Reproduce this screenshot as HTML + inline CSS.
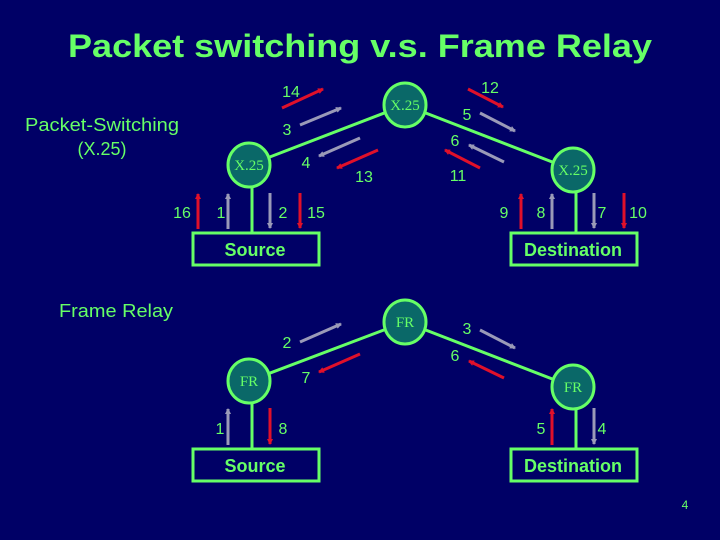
<!DOCTYPE html>
<html><head><meta charset="utf-8"><style>
html,body{margin:0;padding:0;background:#000066;}
svg{display:block}
text{font-family:"Liberation Sans",Arial,Helvetica,sans-serif;fill:#66ff66;}
.n{font-family:"Liberation Serif","Times New Roman",serif;font-size:15px;fill:#66ff66;}
</style></head><body>
<svg width="720" height="540" viewBox="0 0 720 540" xmlns="http://www.w3.org/2000/svg" font-family="Liberation Sans, Arial, sans-serif">
<defs>
<marker id="ar" markerWidth="6" markerHeight="6" refX="5" refY="3" orient="auto" markerUnits="userSpaceOnUse"><path d="M0,0 L6,3 L0,6 Z" fill="#e0102a"/></marker>
<marker id="ag" markerWidth="6" markerHeight="6" refX="5" refY="3" orient="auto" markerUnits="userSpaceOnUse"><path d="M0,0 L6,3 L0,6 Z" fill="#9a9ab8"/></marker>
</defs>
<rect width="720" height="540" fill="#000066"/>
<text x="360" y="57" font-family="Liberation Sans, sans-serif" font-size="32" font-weight="bold" text-anchor="middle" textLength="584" lengthAdjust="spacingAndGlyphs">Packet switching v.s. Frame Relay</text>
<text x="102" y="131" font-family="Liberation Sans, sans-serif" font-size="18" text-anchor="middle" textLength="154" lengthAdjust="spacingAndGlyphs">Packet-Switching</text>
<text x="102" y="155" font-family="Liberation Sans, sans-serif" font-size="18" text-anchor="middle">(X.25)</text>
<text x="116" y="317" font-family="Liberation Sans, sans-serif" font-size="18" text-anchor="middle" textLength="114" lengthAdjust="spacingAndGlyphs">Frame Relay</text>

<g stroke="#66ff66" stroke-width="3" fill="none">
<line x1="249" y1="165" x2="405" y2="105"/><line x1="405" y1="105" x2="573" y2="170"/>
<line x1="252" y1="180" x2="252" y2="234"/><line x1="576" y1="185" x2="576" y2="234"/>
<rect x="193" y="233" width="126" height="32"/><rect x="511" y="233" width="126" height="32"/>
<line x1="249" y1="381" x2="405" y2="322"/><line x1="405" y1="322" x2="573" y2="387"/>
<line x1="252" y1="395" x2="252" y2="450"/><line x1="576" y1="400" x2="576" y2="450"/>
<rect x="193" y="449" width="126" height="32"/><rect x="511" y="449" width="126" height="32"/>
</g>
<g fill="#0a6868" stroke="#66ff66" stroke-width="3">
<ellipse cx="249" cy="165" rx="21" ry="22"/><ellipse cx="405" cy="105" rx="21" ry="22"/><ellipse cx="573" cy="170" rx="21" ry="22"/>
<ellipse cx="249" cy="381" rx="21" ry="22"/><ellipse cx="405" cy="322" rx="21" ry="22"/><ellipse cx="573" cy="387" rx="21" ry="22"/>
</g>
<g font-family="Liberation Serif, serif">
<text class="n" x="249" y="170" text-anchor="middle">X.25</text>
<text class="n" x="405" y="110" text-anchor="middle">X.25</text>
<text class="n" x="573" y="175" text-anchor="middle">X.25</text>
<text class="n" x="249" y="386" text-anchor="middle">FR</text>
<text class="n" x="405" y="327" text-anchor="middle">FR</text>
<text class="n" x="573" y="392" text-anchor="middle">FR</text>
</g>

<g font-family="Liberation Sans, sans-serif" font-size="18" font-weight="bold" text-anchor="middle">
<text x="255" y="256">Source</text><text x="573" y="256">Destination</text>
<text x="255" y="472">Source</text><text x="573" y="472">Destination</text>
</g>

<g stroke-width="3">
<line x1="282" y1="108" x2="323" y2="89" stroke="#e0102a" marker-end="url(#ar)"/>
<line x1="300" y1="125" x2="341" y2="108" stroke="#9a9ab8" marker-end="url(#ag)"/>
<line x1="360" y1="138" x2="319" y2="156" stroke="#9a9ab8" marker-end="url(#ag)"/>
<line x1="378" y1="150" x2="337" y2="168" stroke="#e0102a" marker-end="url(#ar)"/>
<line x1="468" y1="89" x2="503" y2="107" stroke="#e0102a" marker-end="url(#ar)"/>
<line x1="480" y1="113" x2="515" y2="131" stroke="#9a9ab8" marker-end="url(#ag)"/>
<line x1="504" y1="162" x2="469" y2="145" stroke="#9a9ab8" marker-end="url(#ag)"/>
<line x1="480" y1="168" x2="445" y2="150" stroke="#e0102a" marker-end="url(#ar)"/>
<line x1="198" y1="229" x2="198" y2="194" stroke="#e0102a" marker-end="url(#ar)"/>
<line x1="228" y1="229" x2="228" y2="194" stroke="#9a9ab8" marker-end="url(#ag)"/>
<line x1="270" y1="193" x2="270" y2="228" stroke="#9a9ab8" marker-end="url(#ag)"/>
<line x1="300" y1="193" x2="300" y2="228" stroke="#e0102a" marker-end="url(#ar)"/>
<line x1="521" y1="229" x2="521" y2="194" stroke="#e0102a" marker-end="url(#ar)"/>
<line x1="552" y1="229" x2="552" y2="194" stroke="#9a9ab8" marker-end="url(#ag)"/>
<line x1="594" y1="193" x2="594" y2="228" stroke="#9a9ab8" marker-end="url(#ag)"/>
<line x1="624" y1="193" x2="624" y2="228" stroke="#e0102a" marker-end="url(#ar)"/>

<line x1="300" y1="342" x2="341" y2="324" stroke="#9a9ab8" marker-end="url(#ag)"/>
<line x1="360" y1="354" x2="319" y2="372" stroke="#e0102a" marker-end="url(#ar)"/>
<line x1="480" y1="330" x2="515" y2="348" stroke="#9a9ab8" marker-end="url(#ag)"/>
<line x1="504" y1="378" x2="469" y2="361" stroke="#e0102a" marker-end="url(#ar)"/>
<line x1="228" y1="445" x2="228" y2="409" stroke="#9a9ab8" marker-end="url(#ag)"/>
<line x1="270" y1="408" x2="270" y2="444" stroke="#e0102a" marker-end="url(#ar)"/>
<line x1="552" y1="445" x2="552" y2="409" stroke="#e0102a" marker-end="url(#ar)"/>
<line x1="594" y1="408" x2="594" y2="444" stroke="#9a9ab8" marker-end="url(#ag)"/>
</g>

<g font-family="Liberation Sans, sans-serif" font-size="16" text-anchor="middle">
<text x="291" y="97">14</text><text x="287" y="135">3</text><text x="306" y="168">4</text><text x="364" y="182">13</text>
<text x="490" y="93">12</text><text x="467" y="120">5</text><text x="455" y="146">6</text><text x="458" y="181">11</text>
<text x="182" y="218">16</text><text x="221" y="218">1</text><text x="283" y="218">2</text><text x="316" y="218">15</text>
<text x="504" y="218">9</text><text x="541" y="218">8</text><text x="602" y="218">7</text><text x="638" y="218">10</text>
<text x="287" y="348">2</text><text x="306" y="383">7</text><text x="467" y="334">3</text><text x="455" y="361">6</text>
<text x="220" y="434">1</text><text x="283" y="434">8</text><text x="541" y="434">5</text><text x="602" y="434">4</text>
<text x="685" y="509" font-size="12">4</text>
</g>
</svg>
</body></html>
